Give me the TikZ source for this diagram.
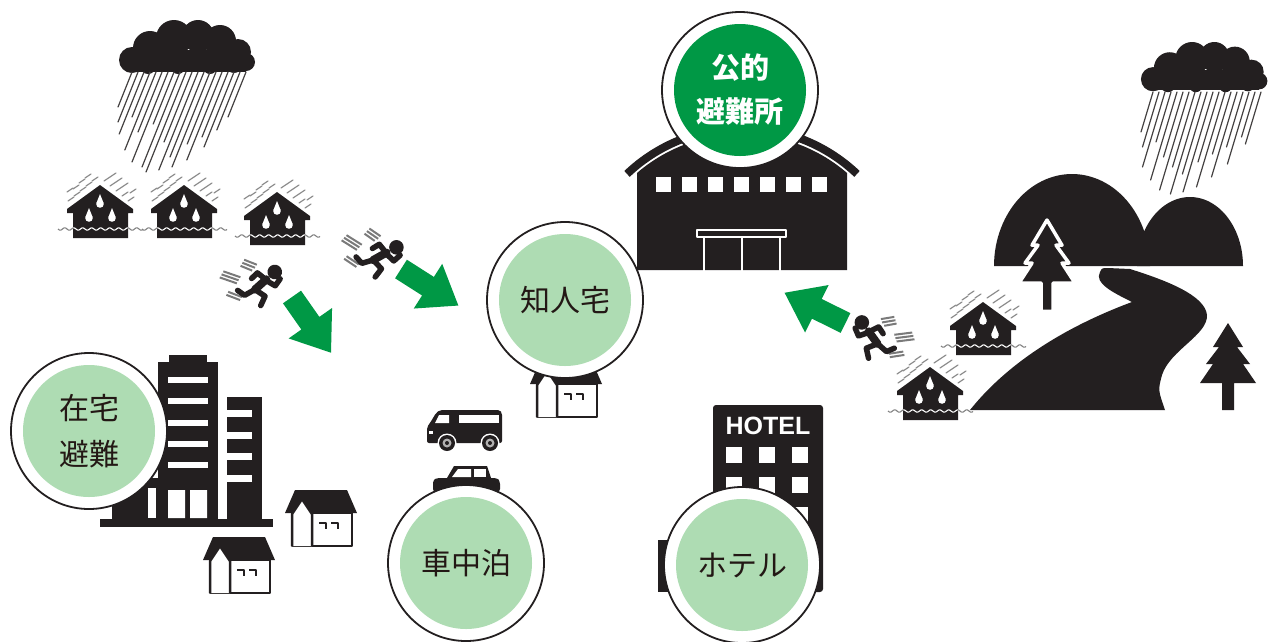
\documentclass[tikz,border=0pt]{standalone}
\usepackage{fontspec}
\newfontfamily\jp{Noto Sans CJK JP}
\newfontfamily\signfont{Liberation Sans}
\definecolor{ink}{HTML}{231F20}
\definecolor{leaf}{HTML}{AEDCB3}
\definecolor{deepgreen}{HTML}{009845}
\definecolor{textdark}{HTML}{231815}
\definecolor{speedgray}{HTML}{7A7A7A}

\tikzset{
  rainline/.style={draw=ink!85, line width=1.2pt, line cap=round},
  drizzle/.style={draw=gray!90, line width=1.2pt, line cap=round},
  speedline/.style={draw=speedgray, line width=2pt},
  outerring/.style={circle, fill=white, draw=ink, line width=1.8pt, minimum size=156pt, inner sep=0pt},
  innerdisc/.style={circle, fill=leaf, minimum size=132pt, inner sep=0pt, text=textdark, align=center,
    font=\jp\fontsize{30pt}{46pt}\selectfont},
  publicdisc/.style={innerdisc, fill=deepgreen, text=white, font=\jp\bfseries\fontsize{29pt}{44pt}\selectfont},
  % storm cloud, origin at its top-left corner
  cloudpic/.pic={
    \fill[ink] (14,40) circle[radius=13] (32,28) circle[radius=17] (56,18) circle[radius=18]
      (80,16) circle[radius=16] (102,21) circle[radius=16] (120,32) circle[radius=13]
      (128,42) circle[radius=9] (30,46) circle[radius=8] (60,47) circle[radius=7]
      (92,47) circle[radius=7] (116,45) circle[radius=8];
    \fill[ink] (12,30) rectangle (128,52);
  },
  % flooded house with drops, water line and drizzle
  floodhouse/.pic={
    \foreach \cx/\cy in {4/14,10/9,16/4,22/-1,28/-6,9/2,15/-4,21/-9,3/5,
                          40/-6,46/-1,52/4,58/9,64/14,46/-10,52/-5,58/0,66/6}
      \draw[drizzle] ({\cx-3},{\cy+2}) -- ({\cx+3},{\cy-2});
    \fill[ink] (0,24) -- (33,0) -- (66,24) -- (66,28) -- (61,28) -- (61,53)
      -- (6,53) -- (6,28) -- (0,28) -- cycle;
    \foreach \hx/\hy in {33/19,22/33,45/33} {
      \fill[white] (\hx,\hy) circle[radius=3.8];
      \fill[white] ({\hx-3.6},{\hy-1}) -- (\hx,{\hy-10}) -- ({\hx+3.6},{\hy-1}) -- cycle;
    }
    \draw[white, line width=1.1pt] plot[domain=6:61, samples=50] (\x,{44+1.2*sin(40*\x)});
    \draw[gray, line width=1.1pt] plot[domain=-9:6, samples=20] (\x,{44+1.2*sin(40*\x)});
    \draw[gray, line width=1.1pt] plot[domain=61:76, samples=20] (\x,{44+1.2*sin(40*\x)});
  },
  % small house, origin at top-left
  homepic/.pic={
    \fill[ink] (0,23) -- (10,0) -- (62,0) -- (72,23) -- cycle;
    \draw[ink, line width=2.5pt, fill=white] (7,23) rectangle (67,56);
    \draw[ink, line width=2.5pt, fill=white] (7,56) -- (7,24) -- (17,9) -- (27,24) -- (27,56);
    \draw[ink, line width=2pt] (34,33) -- (41,33) -- (41,39) (46,33) -- (53,33) -- (53,39);
  },
  % running figure, centred on the origin, facing right
  runnerpic/.pic={
    \draw[speedline] (-11,-18) -- (1,-16) (-12,-15) -- (0,-13) (-13,-12) -- (-2,-10)
      (-27,-4) -- (-11,-2) (-28,-1) -- (-12,1) (-29,2) -- (-13,4)
      (-19,13) -- (-6,15) (-20,16) -- (-7,18);
    \fill[ink] (18,-13) circle[radius=6.5];
    \draw[ink, line width=8pt, line cap=round] (12,-5) -- (4,6);
    \draw[ink, line width=5.5pt, line cap=round, line join=round]
      (12,-4) -- (21,-1) -- (24,-8) (11,-5) -- (3,-9) -- (-1,-3)
      (4,6) -- (14,10) -- (12,19) (4,6) -- (-4,13) -- (-11,10);
  },
  % block arrow along +x from its tail
  greenarrow/.pic={
    \fill[deepgreen] (0,-11) -- (32,-11) -- (32,-26.5) -- (68,0) -- (32,26.5) -- (32,11) -- (0,11) -- cycle;
  },
  % fir tree, peak at the origin
  treepic/.pic={
    \path[pic actions] (0,0) -- (15,24) -- (9,24) -- (22,41) -- (15,41) -- (28,60) -- (6,60)
      -- (6,87) -- (-6,87) -- (-6,60) -- (-28,60) -- (-15,41) -- (-22,41) -- (-9,24) -- (-15,24) -- cycle;
  }
}

\begin{document}
\begin{tikzpicture}[x=1pt, y=-1pt, line join=round]
\useasboundingbox[fill=white] (0,0) rectangle (1269,641);

% ---- left: storm over flooded houses
\pic at (118,20) {cloudpic};
\foreach \a/\l in {132/35,138/50,144/62,150/45,156/78,162/60,168/90,174/52,180/95,186/100,
                   192/70,198/98,204/85,210/95,216/72,222/88,228/65,234/75,240/58,246/45}
  \draw[rainline] (\a,72) -- ++({-0.4*\l},\l);
\pic at (67,185) {floodhouse};
\pic at (151,185) {floodhouse};
\pic at (244,192) {floodhouse};

% ---- runners and arrows
\pic[rotate=-12, scale=1.12] at (252,282) {runnerpic};
\pic[rotate=-25, scale=1.12] at (372,252) {runnerpic};
\pic[xscale=-1.12, yscale=1.12] at (882,337) {runnerpic};
\pic[rotate=-55] at (292,297) {greenarrow};
\pic[rotate=-32.5] at (401,269) {greenarrow};
\pic[rotate=153.6] at (845.5,323) {greenarrow};

% ---- public shelter hall (arched roof)
\draw[ink, line width=8pt] plot[domain=627:857, samples=60] (\x,{295-167*sqrt(1-((\x-742)/167)^2)});
\fill[ink] (637,270) -- plot[domain=637:847, samples=60] (\x,{295-161*sqrt(1-((\x-742)/161)^2)}) -- (847,270) -- cycle;
\foreach \i in {0,...,6}
  \fill[white] ({655.5+26*\i},177) rectangle ++(15,15);
\draw[white, line width=1.3pt] (697,230) rectangle (786,237)
  (704,237) -- (704,271) (780,237) -- (780,271) (742,237) -- (742,271);

% ---- apartment towers
\fill[ink] (112,478) rectangle (160,519);
\fill[ink] (158,362) rectangle (218,519);
\fill[ink] (169,355) rectangle (207,363);
\fill[ink] (227,397) rectangle (262,519);
\fill[ink] (100,519) rectangle (273,527);
\fill[white] (148,488) rectangle (156,518);
\foreach \y in {377,398,420,441,462}
  \fill[white] (168,\y) rectangle (208,{\y+6});
\fill[white] (168,490) rectangle (185,518) (190,490) rectangle (207,518);
\foreach \y in {410,432,453,475}
  \fill[white] (227,\y) rectangle (252,{\y+7});

% ---- houses
\pic at (285,490) {homepic};
\pic at (203,537) {homepic};
\pic at (530,361) {homepic};

% ---- van
\begin{scope}[shift={(427,410)}]
  \fill[ink, rounded corners=2pt] (0,33) -- (0,17) -- (3,13) -- (9,3) -- (13,0) -- (73,0) -- (75,3) -- (75,33) -- cycle;
  \fill[white] (8,13) -- (12,5) -- (22,5) -- (22,13) -- cycle;
  \fill[white] (32,5) rectangle (72,13);
  \fill[white] (2,21) rectangle (6,24);
  \foreach \w in {20,63} {
    \fill[white] (\w,33) circle[radius=9.5];
    \fill[ink] (\w,33) circle[radius=8];
    \fill[white!65!ink] (\w,33) circle[radius=4.5];
    \fill[ink] (\w,33) circle[radius=2];
  }
\end{scope}

% ---- sedan
\begin{scope}[shift={(433,466)}]
  \fill[ink] (14,12) -- (21,0) -- (54,0) -- (58,12) -- cycle;
  \fill[white] (19,11) -- (25,3) -- (38,3) -- (38,11) -- cycle;
  \fill[white] (41,3) rectangle (53,11);
  \fill[ink, rounded corners=3pt] (0,26) -- (0,14) -- (4,12) -- (64,12) -- (67,15) -- (67,26) -- cycle;
\end{scope}

% ---- hotel
\fill[ink] (658,540) rectangle (713,592);
\fill[ink, rounded corners=3pt] (713,405) rectangle (823,592);
\node[font=\signfont\bfseries\fontsize{25pt}{25pt}\selectfont, text=white, inner sep=0pt] (hotelsign) at (768,426) {HOTEL};
\foreach \cx in {726,759,792}
  \foreach \ry in {447,477,507,537,567}
    \fill[white] (\cx,\ry) rectangle ({\cx+16},{\ry+16});

% ---- right: hills, river, trees
\pic[shift={(1140,42)}, scale=0.93] {cloudpic};
\foreach \a/\l in {1153/40,1159/55,1165/75,1171/50,1177/88,1183/65,1189/98,1195/75,1201/102,1207/82,
                   1213/100,1219/70,1225/95,1231/62,1237/85,1243/55,1249/72,1255/45,1261/52}
  \draw[rainline] (\a,92) -- ++({-0.3*\l},\l);
\fill[ink] plot[domain=0:180, samples=60] ({1190+53*cos(\x)},{266-69*sin(\x)}) -- cycle;
\fill[ink] plot[domain=0:180, samples=60] ({1072+78*cos(\x)},{266-92*sin(\x)}) -- cycle;
\pic[fill=ink, draw=white, line width=3.5pt, yscale=1.05] at (1047,220) {treepic};
\fill[ink] (970,410) .. controls (1010,360) and (1070,325) .. (1132,302)
  .. controls (1112,292) and (1094,283) .. (1100,272)
  .. controls (1102,268) .. (1108,268) -- (1130,269)
  .. controls (1165,280) and (1205,295) .. (1207,315)
  .. controls (1208,335) and (1170,350) .. (1162,375)
  .. controls (1158,390) .. (1165,410) -- cycle;
\pic[fill=ink] at (1228,323) {treepic};
\pic at (950,302) {floodhouse};
\pic at (897,367) {floodhouse};

% ---- place labels
\node[outerring] (pubring) at (740,90) {};
\node[publicdisc] (public) at (pubring) {公的\\避難所};
\node[outerring] (friendring) at (565,300) {};
\node[innerdisc] (friend) at (friendring) {知人宅};
\node[outerring] (homering) at (89,431) {};
\node[innerdisc] (home) at (homering) {在宅\\避難};
\node[outerring] (carring) at (466,563) {};
\node[innerdisc] (car) at (carring) {車中泊};
\node[outerring] (hotelring) at (742,565) {};
\node[innerdisc] (hotel) at (hotelring) {ホテル};
\end{tikzpicture}
\end{document}
